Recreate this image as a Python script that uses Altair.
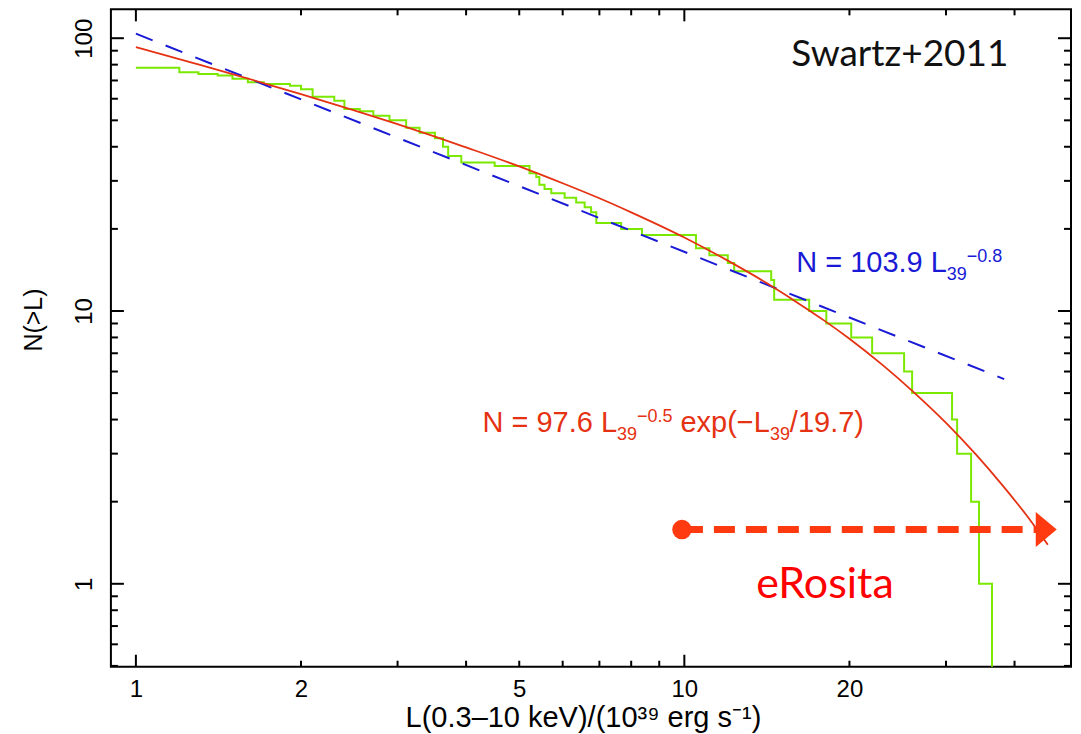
import altair as alt
import pandas as pd

# ---------------- data ----------------
# cumulative luminosity function N(>L) (step curve, green)
green_L = [1.00, 1.20, 1.30, 1.41, 1.50, 1.60, 1.71, 1.91, 2.00, 2.10, 2.30, 2.40,
           2.56, 2.71, 2.90, 3.11, 3.29, 3.51, 3.63, 3.71, 3.92, 4.51, 5.22, 5.37,
           5.44, 5.56, 5.72, 6.05, 6.35, 6.58, 6.76, 6.91, 7.67, 8.37, 10.50, 11.11,
           12.00, 12.33, 14.40, 14.58, 16.89, 18.15, 20.15, 22.00, 25.16, 26.02,
           30.77, 31.43, 33.33, 34.46, 36.39]
green_N = [78, 75, 74, 73, 71, 69, 68, 67, 65, 61, 59, 55,
           54, 52, 50, 47, 45, 43, 40, 37, 35, 34, 32, 31,
           29, 28, 27, 26, 25, 24, 23, 21, 20, 19, 17, 16,
           15, 14, 13, 11, 10, 9, 8, 7, 6, 5,
           4, 3, 2, 1, 0.4]

# cut-off power-law fit (red)
red_L = [1, 1.25, 1.5, 1.75, 2, 2.5, 3, 3.5, 4, 5, 6, 7, 8, 10, 12, 14, 16, 18,
         20, 23, 26, 30, 34, 38, 42, 46]
red_N = [92.8, 81.9, 73.9, 67.5, 62.4, 54.4, 48.4, 43.7, 39.8, 33.9, 29.4, 25.9,
         23.0, 18.6, 15.3, 12.8, 10.8, 9.22, 7.91, 6.33, 5.11, 3.89, 2.98, 2.30,
         1.79, 1.39]

# pure power-law fit (blue dashed)
blue_L = [1.0, 38.3]
blue_N = [103.9, 5.63]

# eRosita arrow
arrow_L = [9.9, 45.7]
arrow_N = [1.58, 1.58]

# axis ticks / labels
x_labels = [1, 2, 5, 10, 20]
y_labels = [1, 10, 100]
x_major = [1, 10]
x_minor = [2, 3, 4, 5, 6, 7, 8, 9, 20, 30, 40]
y_major = [1, 10, 100]
y_minor = [0.5, 0.6, 0.7, 0.8, 0.9, 2, 3, 4, 5, 6, 7, 8, 9,
           20, 30, 40, 50, 60, 70, 80, 90]

# ---------------- chart ----------------
W, H = 961, 658
FONT = "Liberation Sans"
GREEN = "#7be800"
RED = "#e53212"
BLUE = "#1a1ad6"
ARROW = "#ff3a10"

xs = alt.Scale(type="log", domain=[0.9004, 50.7], nice=False)
ys = alt.Scale(type="log", domain=[0.4966, 127.6], nice=False)

x_axis = alt.Axis(values=x_labels, format="d", ticks=False, domain=False, grid=False,
                  labelFont=FONT, labelFontSize=24, labelColor="black",
                  labelPadding=30, labelBaseline="alphabetic", labelFlush=False,
                  labelOverlap=False, title=None)
y_axis = alt.Axis(values=y_labels, format="d", ticks=False, domain=False, grid=False,
                  labelFont=FONT, labelFontSize=24, labelColor="black",
                  labelAngle=270, labelAlign="center", labelBaseline="alphabetic",
                  labelPadding=19, labelFlush=False, labelOverlap=False, title=None)


def X(field):
    return alt.X(field, type="quantitative", scale=xs, axis=x_axis)


def Y(field):
    return alt.Y(field, type="quantitative", scale=ys, axis=y_axis)


green_df = pd.DataFrame({"L": green_L, "N": green_N})
red_df = pd.DataFrame({"L": red_L, "N": red_N})
blue_df = pd.DataFrame({"L": blue_L, "N": blue_N})
arrow_df = pd.DataFrame({"L": arrow_L, "N": arrow_N})

green = alt.Chart(green_df).mark_line(color=GREEN, strokeWidth=2, interpolate="step-after",
                                      clip=True).encode(x=X("L"), y=Y("N"))
blue = alt.Chart(blue_df).mark_line(color=BLUE, strokeWidth=2, strokeDash=[18, 14],
                                    clip=True).encode(x=X("L"), y=Y("N"))
red = alt.Chart(red_df).mark_line(color=RED, strokeWidth=1.8, interpolate="monotone",
                                  clip=True).encode(x=X("L"), y=Y("N"))

shaft = alt.Chart(arrow_df).mark_line(color=ARROW, strokeWidth=7, strokeDash=[21, 11],
                                      strokeCap="butt").encode(x=X("L"), y=Y("N"))
dot = alt.Chart(arrow_df.iloc[[0]]).mark_circle(color=ARROW, size=380, opacity=1).encode(
    x=X("L"), y=Y("N"))
head = alt.Chart(arrow_df.iloc[[1]]).mark_point(
    shape="M -0.6 -1 L 0.6 0 L -0.6 1 Z", size=1225, filled=True, color=ARROW,
    opacity=1).encode(x=X("L"), y=Y("N"))


def ticks_x(vals, length, top):
    df = pd.DataFrame({"v": vals})
    if top:
        yy, yy2 = 0, length
    else:
        yy, yy2 = H, H - length
    return alt.Chart(df).mark_rule(color="black", strokeWidth=2).encode(
        x=X("v"), y=alt.value(yy), y2=alt.value(yy2))


def ticks_y(vals, length, right):
    df = pd.DataFrame({"v": vals})
    if right:
        xx, xx2 = W, W - length
    else:
        xx, xx2 = 0, length
    return alt.Chart(df).mark_rule(color="black", strokeWidth=2).encode(
        y=Y("v"), x=alt.value(xx), x2=alt.value(xx2))


tick_layers = [
    ticks_x(x_major, 12, False), ticks_x(x_minor, 6, False),
    ticks_x(x_major, 12, True), ticks_x(x_minor, 6, True),
    ticks_y(y_major, 13, False), ticks_y(y_minor, 7, False),
    ticks_y(y_major, 13, True), ticks_y(y_minor, 7, True),
]


def label(text, x, y, size, color, font=FONT, angle=0, align="left"):
    return alt.Chart(alt.Data(values=[{}])).mark_text(
        text=text, font=font, fontSize=size, color=color, align=align,
        baseline="alphabetic", angle=angle).encode(x=alt.value(x), y=alt.value(y))


texts = [
    # axis titles
    label("L(0.3–10 keV)/(10³⁹ erg s⁻¹)", 473, 718, 29, "black", align="center"),
    label("N(>L)", -69, 311, 25, "black", angle=270, align="center"),
    # blue formula
    label("N = 103.9 L", 686, 263, 29, BLUE),
    label("39", 836.7, 271, 18, BLUE),
    label("−0.8", 856.7, 253, 18, BLUE),
    # red formula
    label("N = 97.6 L", 372, 423, 29, RED),
    label("39", 506.6, 431, 18, RED),
    label("−0.5", 526.6, 413, 18, RED),
    label("exp(−L", 570.1, 423, 29, RED),
    label("39", 659.6, 431, 18, RED),
    label("/19.7)", 679.6, 423, 29, RED),
    # annotations
    label("Swartz+2011", 681, 57, 37, "#111111", font="Lato"),
    label("eRosita", 646, 589, 43, "#ff0000", font="Lato"),
]

chart = alt.layer(
    green, blue, red, *tick_layers, shaft, dot, head, *texts
).properties(
    width=W, height=H,
    padding={"left": 103, "top": 1, "right": 2, "bottom": 67},
    autosize=alt.AutoSizeParams(type="none"),
).configure_view(stroke="black", strokeWidth=2)

chart.save("out.html", embed_options={"renderer": "svg", "actions": False})
